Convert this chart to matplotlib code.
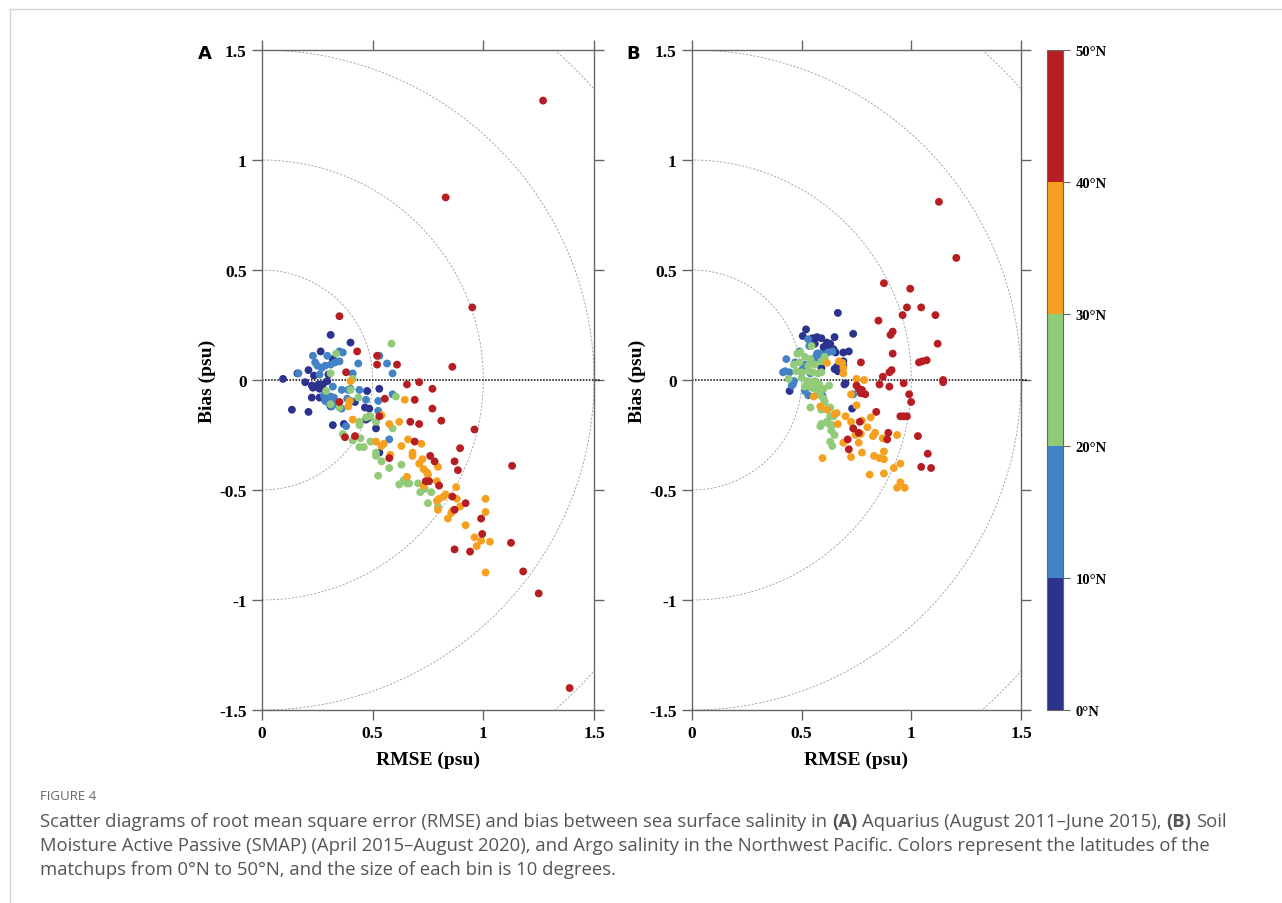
import matplotlib
matplotlib.use('Agg')
import matplotlib.pyplot as plt
import numpy as np
from matplotlib.colors import ListedColormap, BoundaryNorm
from matplotlib.cm import ScalarMappable
from matplotlib.lines import Line2D

# latitude bins
lat_edges = [0, 10, 20, 30, 40, 50]
lat_mids = [5, 15, 25, 35, 45]
lat_labels = ['0°N', '10°N', '20°N', '30°N', '40°N', '50°N']
band_colors = ['#2c338e', '#4382c4', '#91ca78', '#f6a01f', '#b71e24']

# Panel A - Aquarius, (RMSE, bias) per latitude bin
a_0_10 = [(0.31, 0.205), (0.40, 0.17), (0.265, 0.13), (0.32, 0.095), (0.21, 0.045), (0.16, 0.03),
          (0.095, 0.005), (0.235, 0.02), (0.30, 0.025), (0.195, -0.01), (0.225, -0.025), (0.24, -0.03),
          (0.255, -0.02), (0.275, -0.02), (0.295, -0.005), (0.23, -0.035), (0.26, -0.04), (0.475, -0.05),
          (0.53, -0.04), (0.225, -0.08), (0.26, -0.08), (0.285, -0.085), (0.32, -0.095), (0.42, -0.10),
          (0.31, -0.12), (0.135, -0.135), (0.21, -0.145), (0.465, -0.125), (0.485, -0.13), (0.485, -0.17),
          (0.47, -0.18), (0.515, -0.22), (0.32, -0.205), (0.37, -0.20), (0.53, -0.33)]
a_10_20 = [(0.35, 0.13), (0.365, 0.125), (0.23, 0.11), (0.295, 0.11), (0.24, 0.08), (0.25, 0.065),
           (0.31, 0.07), (0.33, 0.08), (0.35, 0.085), (0.27, 0.055), (0.285, 0.065), (0.435, 0.075),
           (0.565, 0.075), (0.59, 0.03), (0.53, 0.11), (0.41, 0.03), (0.165, 0.03), (0.26, 0.025),
           (0.32, -0.03), (0.36, -0.045), (0.39, -0.045), (0.40, -0.04), (0.44, -0.045), (0.28, -0.07),
           (0.31, -0.075), (0.325, -0.08), (0.295, -0.10), (0.285, -0.095), (0.385, -0.085), (0.40, -0.095),
           (0.47, -0.09), (0.525, -0.095), (0.59, -0.065), (0.315, -0.12), (0.525, -0.14), (0.38, -0.21),
           (0.575, -0.27), (0.34, -0.11), (0.36, -0.13)]
a_20_30 = [(0.585, 0.165), (0.335, 0.12), (0.31, 0.03), (0.41, 0.005), (0.29, -0.05), (0.40, -0.045),
           (0.435, -0.08), (0.605, -0.075), (0.31, -0.11), (0.35, -0.125), (0.47, -0.17), (0.49, -0.165),
           (0.44, -0.19), (0.44, -0.205), (0.515, -0.19), (0.59, -0.22), (0.365, -0.245), (0.41, -0.275),
           (0.445, -0.265), (0.44, -0.305), (0.46, -0.305), (0.49, -0.28), (0.515, -0.33), (0.515, -0.345),
           (0.54, -0.37), (0.575, -0.40), (0.63, -0.385), (0.525, -0.435), (0.62, -0.475), (0.64, -0.455),
           (0.655, -0.47), (0.665, -0.47), (0.705, -0.47), (0.715, -0.51), (0.735, -0.495), (0.765, -0.51),
           (0.75, -0.56), (0.795, -0.575)]
a_30_40 = [(0.40, -0.005), (0.395, -0.095), (0.39, -0.12), (0.41, -0.18), (0.54, -0.16), (0.575, -0.20),
           (0.62, -0.19), (0.645, -0.09), (0.515, -0.28), (0.54, -0.30), (0.55, -0.29), (0.58, -0.34),
           (0.63, -0.30), (0.66, -0.27), (0.72, -0.29), (0.68, -0.33), (0.68, -0.345), (0.71, -0.38),
           (0.725, -0.36), (0.795, -0.395), (0.73, -0.405), (0.745, -0.42), (0.75, -0.43), (0.655, -0.44),
           (0.73, -0.48), (0.79, -0.46), (0.877, -0.487), (0.79, -0.55), (0.80, -0.54), (0.82, -0.53),
           (0.83, -0.52), (0.88, -0.54), (0.795, -0.59), (0.855, -0.605), (0.86, -0.595), (0.895, -0.575),
           (0.84, -0.63), (1.01, -0.54), (1.01, -0.60), (0.92, -0.66), (0.96, -0.715), (0.99, -0.73),
           (1.03, -0.735), (0.97, -0.755), (1.01, -0.875)]
a_40_50 = [(1.27, 1.27), (0.83, 0.83), (0.95, 0.33), (0.35, 0.29), (0.43, 0.13), (0.52, 0.11), (0.52, 0.07),
           (0.61, 0.07), (0.38, 0.035), (0.86, 0.06), (0.71, -0.01), (0.655, -0.02), (0.77, -0.04),
           (0.69, -0.09), (0.555, -0.085), (0.35, -0.10), (0.77, -0.13), (0.53, -0.165), (0.81, -0.185),
           (0.67, -0.19), (0.71, -0.20), (0.96, -0.225), (0.375, -0.26), (0.42, -0.255), (0.69, -0.28),
           (0.895, -0.31), (0.575, -0.355), (0.76, -0.345), (0.78, -0.37), (0.87, -0.37), (0.885, -0.41),
           (1.13, -0.39), (0.74, -0.46), (0.755, -0.46), (0.80, -0.48), (0.86, -0.53), (0.92, -0.56),
           (0.87, -0.59), (0.99, -0.63), (0.995, -0.70), (1.125, -0.74), (0.87, -0.77), (0.94, -0.78),
           (1.18, -0.87), (1.25, -0.97), (1.39, -1.40)]

# Panel B - SMAP
b_0_10 = [(0.665, 0.305), (0.52, 0.23), (0.505, 0.20), (0.57, 0.195), (0.59, 0.19), (0.615, 0.17),
          (0.63, 0.165), (0.65, 0.195), (0.735, 0.21), (0.56, 0.165), (0.60, 0.15), (0.575, 0.12),
          (0.59, 0.12), (0.645, 0.14), (0.655, 0.125), (0.69, 0.125), (0.715, 0.13), (0.59, 0.055),
          (0.66, 0.06), (0.665, 0.04), (0.69, 0.085), (0.69, 0.065), (0.65, 0.05), (0.695, -0.02),
          (0.70, -0.015), (0.445, -0.05), (0.73, -0.13), (0.55, 0.19), (0.62, 0.14)]
b_10_20 = [(0.53, 0.185), (0.535, 0.155), (0.49, 0.13), (0.43, 0.095), (0.57, 0.12), (0.585, 0.12),
           (0.62, 0.125), (0.64, 0.13), (0.58, 0.095), (0.445, 0.035), (0.425, 0.04), (0.415, 0.035),
           (0.515, 0.07), (0.55, 0.08), (0.505, 0.05), (0.54, 0.03), (0.455, -0.025), (0.465, -0.005),
           (0.515, -0.05), (0.53, -0.07), (0.735, -0.065), (0.46, -0.02), (0.595, -0.07), (0.47, 0.08),
           (0.56, 0.10)]
b_20_30 = [(0.545, 0.155), (0.48, 0.12), (0.495, 0.125), (0.515, 0.105), (0.54, 0.095), (0.59, 0.085),
           (0.605, 0.105), (0.465, 0.07), (0.49, 0.08), (0.53, 0.065), (0.56, 0.07), (0.475, 0.04),
           (0.50, 0.035), (0.53, 0.04), (0.55, 0.035), (0.575, 0.03), (0.59, 0.035), (0.44, 0.005),
           (0.50, 0.01), (0.525, -0.005), (0.54, -0.01), (0.56, -0.005), (0.58, -0.02), (0.515, -0.03),
           (0.545, -0.035), (0.56, -0.04), (0.575, -0.05), (0.60, -0.04), (0.625, -0.025), (0.585, -0.07),
           (0.60, -0.085), (0.605, -0.10), (0.54, -0.125), (0.59, -0.135), (0.63, -0.125), (0.63, -0.165),
           (0.645, -0.165), (0.585, -0.21), (0.59, -0.20), (0.615, -0.19), (0.625, -0.20), (0.64, -0.205),
           (0.635, -0.23), (0.65, -0.25), (0.63, -0.28), (0.64, -0.30)]
b_30_40 = [(0.615, 0.078), (0.67, 0.085), (0.685, 0.078), (0.69, 0.055), (0.69, 0.03), (0.75, 0.005),
           (0.785, 0.0), (0.725, -0.065), (0.75, -0.115), (0.555, -0.075), (0.585, -0.12), (0.615, -0.135),
           (0.65, -0.155), (0.66, -0.15), (0.70, -0.165), (0.725, -0.19), (0.775, -0.185), (0.815, -0.17),
           (0.665, -0.20), (0.80, -0.215), (0.745, -0.25), (0.77, -0.245), (0.825, -0.255), (0.835, -0.24),
           (0.87, -0.265), (0.935, -0.25), (0.69, -0.285), (0.76, -0.285), (0.875, -0.325), (0.775, -0.33),
           (0.725, -0.35), (0.595, -0.355), (0.83, -0.345), (0.855, -0.355), (0.875, -0.36), (0.92, -0.40),
           (0.95, -0.38), (0.81, -0.43), (0.875, -0.425), (0.95, -0.465), (0.935, -0.49), (0.97, -0.49)]
b_40_50 = [(1.126, 0.81), (1.205, 0.555), (0.875, 0.44), (0.995, 0.415), (0.98, 0.33), (0.96, 0.295),
           (1.045, 0.33), (1.11, 0.295), (0.85, 0.27), (0.915, 0.22), (0.905, 0.205), (1.12, 0.165),
           (0.915, 0.12), (1.035, 0.08), (1.05, 0.085), (1.07, 0.09), (0.77, 0.08), (0.91, 0.045),
           (0.90, 0.035), (0.87, 0.015), (1.145, 0.0), (1.145, -0.01), (0.855, -0.02), (0.90, -0.03),
           (0.965, -0.015), (0.99, -0.065), (0.75, -0.025), (0.76, -0.04), (0.77, -0.06), (0.79, -0.065),
           (0.775, -0.045), (0.999, -0.10), (0.84, -0.145), (0.95, -0.165), (0.98, -0.165), (0.965, -0.165),
           (0.765, -0.19), (0.735, -0.22), (0.76, -0.24), (0.895, -0.24), (0.89, -0.27), (0.71, -0.27),
           (0.715, -0.315), (1.03, -0.255), (1.075, -0.335), (1.045, -0.395), (1.09, -0.40)]

panel_a = [a_0_10, a_10_20, a_20_30, a_30_40, a_40_50]
panel_b = [b_0_10, b_10_20, b_20_30, b_30_40, b_40_50]

xticks = [0, 0.5, 1, 1.5]
xtick_labels = ['0', '0.5', '1', '1.5']
yticks = [-1.5, -1, -0.5, 0, 0.5, 1, 1.5]
ytick_labels = ['-1.5', '-1', '-0.5', '0', '0.5', '1', '1.5']
radii = [0.5, 1, 1.5, 2]

cmap = ListedColormap(band_colors)
norm = BoundaryNorm(lat_edges, cmap.N)

W, H = 1282, 904
fig = plt.figure(figsize=(W / 100, H / 100), dpi=100)
fig.patch.set_facecolor('white')

serif = 'Liberation Serif'
axA = fig.add_axes([262 / W, 1 - 711 / H, 332 / W, 660 / H])
axB = fig.add_axes([692 / W, 1 - 711 / H, 329 / W, 660 / H])
cax = fig.add_axes([1047 / W, 1 - 711 / H, 16 / W, 660 / H])


def draw_panel(ax, bands, letter, xpix):
    th = np.linspace(-np.pi / 2, np.pi / 2, 500)
    for r in radii:
        ax.plot(r * np.cos(th), r * np.sin(th), ls=(0, (2.5, 2)), color='#999999', lw=0.6, zorder=1)
    ax.plot([0, 1.53], [0, 0], ls=(0, (1, 1)), color='black', lw=1.1, clip_on=False, zorder=2)
    for lat, pts in zip(lat_mids, bands):
        x = [p[0] for p in pts]
        y = [p[1] for p in pts]
        ax.scatter(x, y, c=[lat] * len(x), cmap=cmap, norm=norm, s=32, linewidths=0, zorder=3)
    ax.set_xlim(0, 1.5)
    ax.set_ylim(-1.5, 1.5)
    ax.set_xticks(xticks)
    ax.set_xticklabels(xtick_labels)
    ax.set_yticks(yticks)
    ax.set_yticklabels(ytick_labels)
    ax.tick_params(direction='out', length=7, width=1, color='#666666', top=True, right=True,
                   labelsize=12.5, pad=4)
    for lab in ax.get_xticklabels() + ax.get_yticklabels():
        lab.set_fontfamily(serif)
        lab.set_fontweight('bold')
    for sp in ax.spines.values():
        sp.set_color('#666666')
        sp.set_linewidth(1)
    fig.text(xpix / W, 1 - 54 / H, letter, fontsize=13, fontweight='bold', family='DejaVu Sans',
             ha='center', va='center')
    pos = ax.get_position()
    fig.text(pos.x0 + pos.width / 2, 1 - 760 / H, 'RMSE (psu)', fontsize=14, fontweight='bold',
             family=serif, ha='center', va='center')
    fig.text(pos.x0 - 55 / W, pos.y0 + pos.height / 2, 'Bias (psu)', fontsize=14, fontweight='bold',
             family=serif, ha='center', va='center', rotation=90)


draw_panel(axA, panel_a, 'A', 205)
draw_panel(axB, panel_b, 'B', 633)

cb = fig.colorbar(ScalarMappable(norm=norm, cmap=cmap), cax=cax, ticks=lat_edges)
cb.set_ticklabels(lat_labels)
cb.outline.set_edgecolor('#666666')
cb.outline.set_linewidth(0.8)
cax.tick_params(length=5, width=0.8, color='#666666', labelsize=10.5, pad=4)
for lab in cax.get_yticklabels():
    lab.set_fontfamily(serif)
    lab.set_fontweight('bold')

# frame lines of the page
fig.add_artist(Line2D([10 / W, 1], [1 - 10 / H, 1 - 10 / H], color='#d5d5d5', lw=1))
fig.add_artist(Line2D([10 / W, 10 / W], [0, 1 - 10 / H], color='#d5d5d5', lw=1))

# caption
fig.text(40 / W, 1 - 797 / H, 'FIGURE 4', fontsize=9.5, color='#666666', family='Open Sans',
         va='center')

renderer = fig.canvas.get_renderer()
cap_size = 13.3
cap_color = '#555555'


def text_width(s, weight):
    t = fig.text(0, 0, s, fontsize=cap_size, fontweight=weight, family='Open Sans')
    w = t.get_window_extent(renderer).width
    t.remove()
    return w


space_w = text_width('a a', 'normal') - text_width('aa', 'normal')


def rich_line(ypix, runs):
    x = 40.0
    for s, weight in runs:
        t = fig.text(x / W, 1 - ypix / H, s, fontsize=cap_size, fontweight=weight, color=cap_color,
                     family='Open Sans', va='center')
        x += t.get_window_extent(renderer).width + space_w


rich_line(822, [('Scatter diagrams of root mean square error (RMSE) and bias between sea surface salinity in', 'normal'),
                ('(A)', 'bold'), ('Aquarius (August 2011–June 2015),', 'normal'), ('(B)', 'bold'), ('Soil', 'normal')])
rich_line(846, [('Moisture Active Passive (SMAP) (April 2015–August 2020), and Argo salinity in the Northwest Pacific. '
                 'Colors represent the latitudes of the', 'normal')])
rich_line(870, [('matchups from 0°N to 50°N, and the size of each bin is 10 degrees.', 'normal')])

fig.savefig('out.png', dpi=100)
